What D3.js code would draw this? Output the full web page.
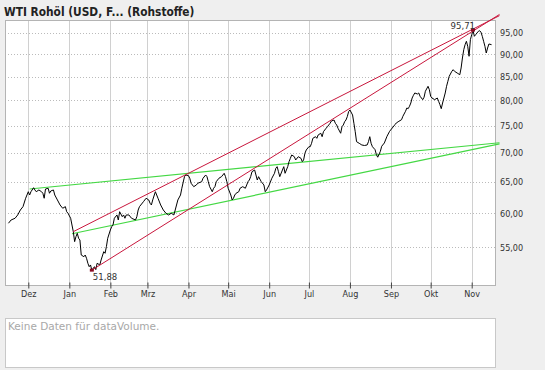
<!DOCTYPE html>
<html>
<head>
<meta charset="utf-8">
<script src="https://cdn.jsdelivr.net/npm/d3@7"></script>
<style>
body { margin: 0; background: #efefef; }
svg { display: block; }
text { font-family: "DejaVu Sans Condensed", "Liberation Sans", sans-serif; }
</style>
</head>
<body>
<script>
// WTI close
var dates = ["2006-11-16","2006-11-18","2006-11-21","2006-11-23","2006-11-25","2006-11-27","2006-11-29",
  "2006-12-01","2006-12-02","2006-12-03","2006-12-05","2006-12-06","2006-12-07","2006-12-09","2006-12-11","2006-12-12",
  "2006-12-13","2006-12-14","2006-12-16","2006-12-17","2006-12-18","2006-12-20","2006-12-21","2006-12-23","2006-12-25",
  "2006-12-27","2006-12-29","2006-12-30","2006-12-31",
  "2007-01-02","2007-01-03","2007-01-04","2007-01-05","2007-01-06","2007-01-07","2007-01-08","2007-01-09","2007-01-10",
  "2007-01-12","2007-01-13","2007-01-14","2007-01-15","2007-01-16","2007-01-17","2007-01-18","2007-01-20","2007-01-21",
  "2007-01-22","2007-01-24","2007-01-25","2007-01-27","2007-01-28","2007-01-29","2007-01-30",
  "2007-02-01","2007-02-02","2007-02-03","2007-02-04","2007-02-06","2007-02-07","2007-02-08","2007-02-10","2007-02-11",
  "2007-02-12","2007-02-13","2007-02-15","2007-02-17","2007-02-20","2007-02-21","2007-02-22","2007-02-23","2007-02-26",
  "2007-02-28",
  "2007-03-02","2007-03-03","2007-03-04","2007-03-05","2007-03-07","2007-03-09","2007-03-11","2007-03-13","2007-03-15",
  "2007-03-17","2007-03-19","2007-03-21","2007-03-22","2007-03-24","2007-03-26","2007-03-27","2007-03-29","2007-03-30",
  "2007-04-01","2007-04-02","2007-04-03","2007-04-05","2007-04-07","2007-04-08","2007-04-11","2007-04-12","2007-04-14",
  "2007-04-15","2007-04-16","2007-04-17","2007-04-19","2007-04-20","2007-04-21","2007-04-22","2007-04-24","2007-04-26",
  "2007-04-28","2007-04-29","2007-04-30",
  "2007-05-01","2007-05-03","2007-05-04","2007-05-05","2007-05-06","2007-05-07","2007-05-09","2007-05-10","2007-05-12",
  "2007-05-14","2007-05-15","2007-05-16","2007-05-17","2007-05-18","2007-05-19","2007-05-21","2007-05-22","2007-05-23",
  "2007-05-24","2007-05-26","2007-05-28","2007-05-29","2007-05-30",
  "2007-06-01","2007-06-03","2007-06-05","2007-06-06","2007-06-07","2007-06-08","2007-06-09","2007-06-11","2007-06-12",
  "2007-06-13","2007-06-15","2007-06-16","2007-06-17","2007-06-18","2007-06-20","2007-06-21","2007-06-23","2007-06-25",
  "2007-06-26","2007-06-27","2007-06-28","2007-06-29",
  "2007-07-01","2007-07-02","2007-07-03","2007-07-04","2007-07-06","2007-07-07","2007-07-08","2007-07-10","2007-07-11",
  "2007-07-12","2007-07-14","2007-07-15","2007-07-16","2007-07-17","2007-07-18","2007-07-20","2007-07-21","2007-07-22",
  "2007-07-23","2007-07-25","2007-07-26","2007-07-27","2007-07-28","2007-07-29","2007-07-30","2007-07-31",
  "2007-08-01","2007-08-03","2007-08-04","2007-08-05","2007-08-06","2007-08-08","2007-08-10","2007-08-12","2007-08-14",
  "2007-08-15","2007-08-16","2007-08-17","2007-08-18","2007-08-20","2007-08-21","2007-08-22","2007-08-24","2007-08-25",
  "2007-08-27","2007-08-29","2007-08-31",
  "2007-09-02","2007-09-04","2007-09-05","2007-09-07","2007-09-09","2007-09-10","2007-09-12","2007-09-13","2007-09-14",
  "2007-09-15","2007-09-16","2007-09-17","2007-09-18","2007-09-19","2007-09-21","2007-09-22","2007-09-23","2007-09-25",
  "2007-09-26","2007-09-27","2007-09-29","2007-09-30",
  "2007-10-01","2007-10-02","2007-10-04","2007-10-06","2007-10-07","2007-10-08","2007-10-09","2007-10-10","2007-10-12",
  "2007-10-13","2007-10-14","2007-10-15","2007-10-17","2007-10-18","2007-10-19","2007-10-21","2007-10-23","2007-10-24",
  "2007-10-25","2007-10-26","2007-10-27","2007-10-28","2007-10-29","2007-10-30","2007-10-31",
  "2007-11-01","2007-11-02","2007-11-03","2007-11-04","2007-11-05","2007-11-06","2007-11-07","2007-11-08","2007-11-09",
  "2007-11-10","2007-11-11","2007-11-12","2007-11-13","2007-11-14","2007-11-16"];
var closes = [58.47,58.96,59.22,59.72,60.48,61.00,62.32,
  63.37,62.84,63.37,64.02,63.65,63.37,63.65,63.37,63.12,
  62.32,63.81,63.93,63.12,63.49,63.65,62.84,62.05,61.26,
  60.75,61.00,60.22,59.98,
  59.22,58.21,57.23,55.79,56.50,56.99,56.27,56.03,53.92,
  53.69,53.92,53.47,52.80,52.34,52.57,51.88,52.34,51.95,
  52.80,52.57,53.24,54.38,54.16,55.08,56.27,
  57.48,57.96,58.21,59.22,59.72,58.96,60.22,59.46,59.72,
  59.22,59.72,59.72,59.22,58.96,59.46,60.48,61.00,61.78,
  62.32,
  62.05,61.53,61.26,62.05,63.37,62.32,61.26,60.48,59.98,
  59.72,59.98,59.72,60.48,62.05,62.84,63.93,65.85,66.13,
  66.02,65.58,64.75,64.19,64.47,64.75,65.01,65.58,66.13,
  65.85,65.01,64.19,63.37,63.93,64.19,65.01,65.58,65.85,
  66.42,65.85,65.01,
  63.93,62.84,62.05,62.32,62.84,63.12,63.37,63.93,64.19,
  63.93,64.47,65.01,65.29,65.85,66.69,66.98,66.13,65.29,
  65.85,65.01,64.47,63.37,63.65,
  64.47,65.58,66.42,67.27,67.55,66.69,65.85,66.98,67.55,
  66.42,67.55,68.42,69.01,69.60,69.29,68.71,69.29,69.01,
  68.42,68.71,69.90,70.49,
  71.08,71.08,71.70,72.62,72.92,72.62,73.24,73.56,72.92,
  73.86,74.50,74.80,75.13,75.45,75.90,76.09,75.45,75.13,
  74.50,73.56,74.80,75.13,75.76,76.09,76.74,77.72,
  78.06,77.07,75.45,73.86,72.00,71.70,71.39,71.30,71.39,
  72.00,72.92,71.70,71.08,70.54,69.65,69.20,70.25,71.16,
  71.76,72.99,73.93,
  74.56,75.19,75.51,75.84,76.15,76.81,77.80,78.46,78.32,
  78.80,79.46,80.48,81.04,81.52,81.31,81.52,80.83,80.14,
  80.63,81.88,82.92,82.21,
  80.83,80.48,80.14,80.48,79.81,79.12,78.32,79.46,81.52,
  82.92,83.99,85.06,86.16,86.51,86.16,85.78,85.41,86.89,
  89.13,91.04,92.21,93.01,91.83,89.52,93.39,
  94.59,95.71,94.20,94.59,95.00,95.40,95.56,95.20,94.20,
  93.01,91.83,90.27,91.43,92.37,92.21];

// trend lines: start/end date and value
var redLines = [
  [["2007-01-04", 57.23], ["2007-11-22", 99.3]],
  [["2007-01-18", 51.88], ["2007-11-22", 99.6]]
];
var greenLines = [
  [["2006-12-02", 63.81], ["2007-11-22", 71.8]],
  [["2007-01-03", 56.93], ["2007-11-22", 71.6]]
];

var monthLabels = ["Dez","Jan","Feb","Mrz","Apr","Mai","Jun","Jul","Aug","Sep","Okt","Nov"];
var yTicks = [55, 60, 65, 70, 75, 80, 85, 90, 95];

var w = 545, h = 370;
var plotL = 5, plotR = 495, plotT = 20, plotB = 285;

var parse = d3.timeParse("%Y-%m-%d");
var data = dates.map(function(d, i){ return [parse(d), closes[i]]; });

var de = d3.formatLocale({decimal: ",", thousands: ".", grouping: [3], currency: ["", " €"]});
var fmt = de.format(".2f");

var svg = d3.select("body").append("svg")
  .attr("width", w)
  .attr("height", h);

var xScale = d3.scaleTime()
  .domain([new Date(2006, 11, 1), new Date(2007, 10, 1)])
  .range([28.3, 471.7]);

var yScale = d3.scaleLog()
  .domain([49.95, 98.2])
  .range([plotB, plotT]);

var monthTicks = d3.timeMonth.range(new Date(2006, 11, 1), new Date(2007, 10, 2));

// title
svg.append("text")
  .attr("x", 4)
  .attr("y", 16)
  .attr("font-size", "11.8px")
  .attr("font-weight", "bold")
  .attr("fill", "#222")
  .text("WTI Rohöl (USD, F... (Rohstoffe)");

// plot box
svg.append("rect")
  .attr("x", plotL + 0.5).attr("y", plotT + 0.5)
  .attr("width", plotR - plotL).attr("height", plotB - plotT)
  .attr("fill", "#fff");

// grid
svg.selectAll(".vgrid")
  .data(monthTicks)
  .enter()
  .append("line")
  .attr("x1", function(d){ return Math.round(xScale(d)) + 0.5; })
  .attr("x2", function(d){ return Math.round(xScale(d)) + 0.5; })
  .attr("y1", plotT).attr("y2", plotB)
  .attr("stroke", "#d0d0d0");

svg.selectAll(".hgrid")
  .data(yTicks)
  .enter()
  .append("line")
  .attr("x1", plotL).attr("x2", plotR)
  .attr("y1", function(d){ return Math.round(yScale(d)) + 0.5; })
  .attr("y2", function(d){ return Math.round(yScale(d)) + 0.5; })
  .attr("stroke", "#bbb")
  .attr("stroke-dasharray", "1,2");

svg.append("rect")
  .attr("x", plotL + 0.5).attr("y", plotT + 0.5)
  .attr("width", plotR - plotL).attr("height", plotB - plotT)
  .attr("fill", "none")
  .attr("stroke", "#b4b4b4");

// axes
var xAxis = d3.axisBottom(xScale)
  .tickValues(monthTicks)
  .tickSize(3)
  .tickPadding(2)
  .tickFormat(function(d, i){ return monthLabels[i]; });

var gx = svg.append("g")
  .attr("transform", "translate(0," + (plotB + 0.5) + ")")
  .call(xAxis);
gx.select(".domain").remove();
gx.selectAll(".tick line").attr("y1", -3).attr("stroke", "#444");
gx.selectAll("text").attr("font-size", "9px").attr("fill", "#333");

var yAxis = d3.axisRight(yScale)
  .tickValues(yTicks)
  .tickSize(0)
  .tickPadding(5)
  .tickFormat(fmt);

var gy = svg.append("g")
  .attr("transform", "translate(" + plotR + ",0)")
  .call(yAxis);
gy.select(".domain").remove();
gy.selectAll("text").attr("font-size", "9px").attr("fill", "#333");

// trend lines
var seg = d3.line()
  .x(function(d){ return xScale(parse(d[0])); })
  .y(function(d){ return yScale(d[1]); });

svg.selectAll(".green")
  .data(greenLines)
  .enter()
  .append("path")
  .attr("d", seg)
  .attr("fill", "none")
  .attr("stroke", "#44d844")
  .attr("stroke-width", 1.2);

// price line
var line = d3.line()
  .x(function(d){ return xScale(d[0]); })
  .y(function(d){ return yScale(d[1]); });

svg.append("path")
  .datum(data)
  .attr("d", line)
  .attr("fill", "none")
  .attr("stroke", "#000")
  .attr("stroke-width", 1);

svg.selectAll(".red")
  .data(redLines)
  .enter()
  .append("path")
  .attr("d", seg)
  .attr("fill", "none")
  .attr("stroke", "#c8163c")
  .attr("stroke-width", 1);

// min / max markers
var lo = d3.least(data, function(d){ return d[1]; });
var hi = d3.greatest(data, function(d){ return d[1]; });

[lo, hi].forEach(function(p){
  svg.append("rect")
    .attr("x", xScale(p[0]) - 2).attr("y", yScale(p[1]) - 1.5)
    .attr("width", 4).attr("height", 3)
    .attr("fill", "#8a0a22");
});

svg.append("text")
  .attr("x", xScale(lo[0]) + 1)
  .attr("y", yScale(lo[1]) + 10)
  .attr("font-size", "9.5px")
  .attr("fill", "#333")
  .text(fmt(lo[1]));

svg.append("text")
  .attr("x", xScale(hi[0]) + 2)
  .attr("y", yScale(hi[1]) - 1)
  .attr("text-anchor", "end")
  .attr("font-size", "9.5px")
  .attr("fill", "#333")
  .text(fmt(hi[1]));

// empty volume panel
svg.append("rect")
  .attr("x", plotL + 0.5).attr("y", 318.5)
  .attr("width", plotR - plotL).attr("height", 49)
  .attr("fill", "#fff")
  .attr("stroke", "#c8c8c8");

svg.append("text")
  .attr("x", 8)
  .attr("y", 330)
  .attr("font-size", "10.5px")
  .style("font-family", "\"DejaVu Sans\", sans-serif")
  .attr("fill", "#a8a8a8")
  .text("Keine Daten für dataVolume.");
</script>
</body>
</html>
